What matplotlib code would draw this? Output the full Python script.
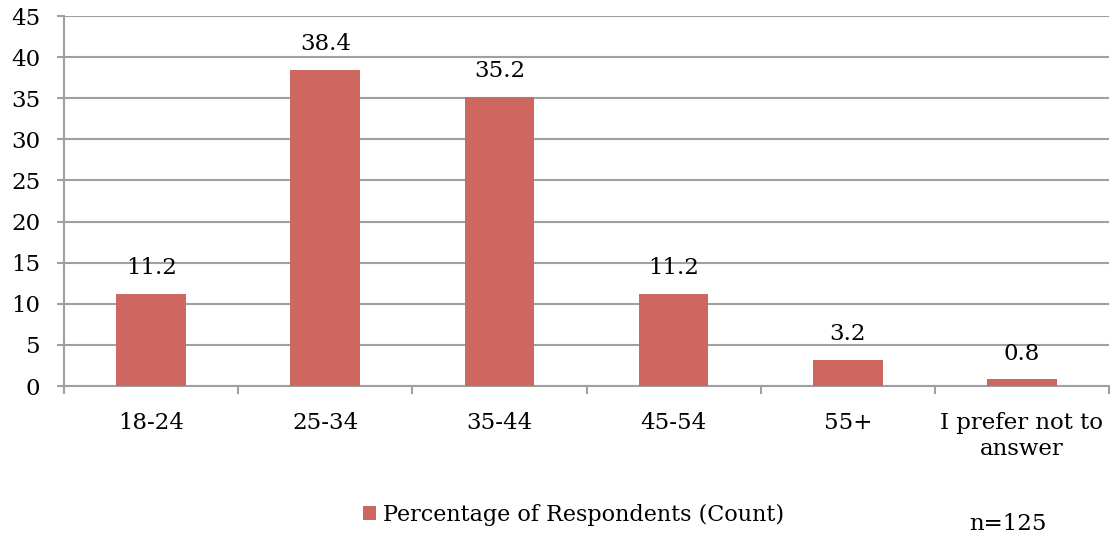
import matplotlib
matplotlib.use("Agg")
import matplotlib.pyplot as plt
import numpy as np

categories = ["18-24", "25-34", "35-44", "45-54", "55+", "I prefer not to\nanswer"]
values = [11.2, 38.4, 35.2, 11.2, 3.2, 0.8]
yticks = [0, 5, 10, 15, 20, 25, 30, 35, 40, 45]

bar_color = "#CD6760"
grid_color = "#A0A0A0"
fs = 16.5

plt.rcParams['font.family'] = ['DejaVu Serif']
fig = plt.figure(figsize=(11.14, 5.41), dpi=100)
ax = fig.add_axes([0.0575, 0.2865, 0.938, 0.6839])

x = np.arange(len(categories))
bars = ax.bar(x, values, width=0.4, color=bar_color, zorder=3,
              label="Percentage of Respondents (Count)")
for xi, v in zip(x, values):
    ax.text(xi, v + 1.8, f"{v:.1f}", ha="center", va="bottom", fontsize=fs)

ax.set_xlim(-0.5, len(categories) - 0.5)
ax.set_ylim(0, 45)
ax.set_yticks(yticks)
ax.tick_params(axis="y", length=5, color=grid_color, width=1.5, labelsize=fs, pad=12)
ax.yaxis.grid(True, color=grid_color, linewidth=1.5, zorder=0)

ax.set_xticks(x)
ax.set_xticklabels(categories, fontsize=fs, linespacing=1.2)
ax.tick_params(axis="x", length=0, pad=19)
ax.set_xticks(np.arange(len(categories) + 1) - 0.5, minor=True)
ax.tick_params(axis="x", which="minor", length=6, color=grid_color, width=1.5)

for s in ["top", "right"]:
    ax.spines[s].set_visible(False)
for s in ["left", "bottom"]:
    ax.spines[s].set_color(grid_color)
    ax.spines[s].set_linewidth(1.5)

fig.legend(handles=[bars], loc="center", bbox_to_anchor=(0.515, 0.048),
           frameon=False, fontsize=16, handlelength=0.6, handleheight=0.6,
           handletextpad=0.3)
fig.text(0.905, 0.031, "n=125", ha="center", va="center", fontsize=fs)

plt.savefig("out.png", dpi=100)
plt.close()
